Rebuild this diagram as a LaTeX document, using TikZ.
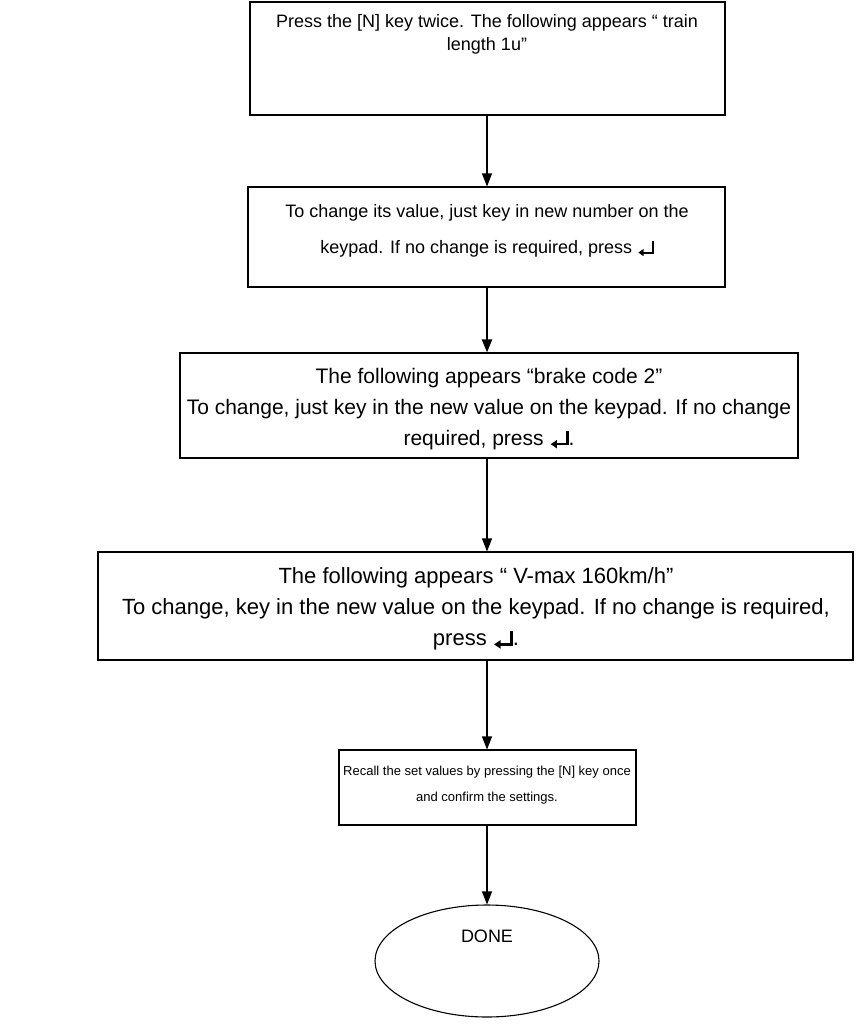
\documentclass[tikz,border=0pt]{standalone}
\usepackage{fontspec}
\setmainfont{Liberation Sans}
\usetikzlibrary{arrows.meta,shapes.geometric}
% return-key symbol: a hooked arrow pointing left
\newcommand{\enterkey}{\tikz[baseline=0pt]{%
  \draw[line width=0.11em, -{Triangle[length=0.3em,width=0.38em]}]
    (0.85em,0.68em) -- (0.85em,0.06em) -- (0.05em,0.06em);}}
\begin{document}
\begin{tikzpicture}[x=1pt,y=-1pt]
\tikzset{
  stepbox/.style={draw, rectangle, line width=1.1pt, inner sep=0pt},
  flow/.style={line width=1.1pt, -{Triangle[length=13pt,width=10pt]}},
  heavyflow/.style={flow, line width=2pt},
  txt/.style={align=center, inner sep=0pt},
}
\useasboundingbox (0,0) rectangle (855,1025);
\fill[white] (0,0) rectangle (855,1025);
\coordinate (axis) at (487,0);

% process boxes
\node[stepbox, minimum width=475pt, minimum height=113pt] (b1) at (487.5,58.5) {};
\node[txt, font=\fontsize{18}{23}\selectfont] (t1) at (487,34)
  {Press the [N] key twice. The following appears “ train\\length 1u”};

\node[stepbox, minimum width=477pt, minimum height=100pt] (b2) at (486.5,237) {};
\node[txt, font=\fontsize{18}{36}\selectfont] (t2) at (487,231)
  {To change its value, just key in new number on the\\keypad. If no change is required, press \enterkey};

\node[stepbox, minimum width=618pt, minimum height=105pt] (b3) at (489,405.5) {};
\node[txt, font=\fontsize{21}{31}\selectfont] (t3) at (489,409)
  {The following appears “brake code 2”\\To change, just key in the new value on the keypad. If no change\\required, press \enterkey.};

\node[stepbox, minimum width=755pt, minimum height=108pt] (b4) at (475.5,606) {};
\node[txt, font=\fontsize{22}{31}\selectfont] (t4) at (476,609)
  {The following appears “ V-max 160km/h”\\To change, key in the new value on the keypad. If no change is required,\\press \enterkey.};

\node[stepbox, minimum width=297pt, minimum height=75pt] (b5) at (487.5,787.5) {};
\node[txt, font=\fontsize{13}{26}\selectfont] (t5) at (487,785)
  {Recall the set values by pressing the [N] key once\\and confirm the settings.};

% terminal
\node[draw, ellipse, line width=1.1pt, minimum width=224pt, minimum height=112pt, inner sep=0pt] (done) at (487,961) {};
\node[txt, font=\fontsize{18}{22}\selectfont] (tdone) at (487,936) {DONE};

% connectors
\draw[flow] (b1.south -| axis) -- (b2.north -| axis);
\draw[heavyflow] (b2.south -| axis) -- (b3.north -| axis);
\draw[flow] (b3.south -| axis) -- (b4.north -| axis);
\draw[flow] (b4.south -| axis) -- (b5.north -| axis);
\draw[flow] (b5.south -| axis) -- (done.north -| axis);
\end{tikzpicture}
\end{document}
